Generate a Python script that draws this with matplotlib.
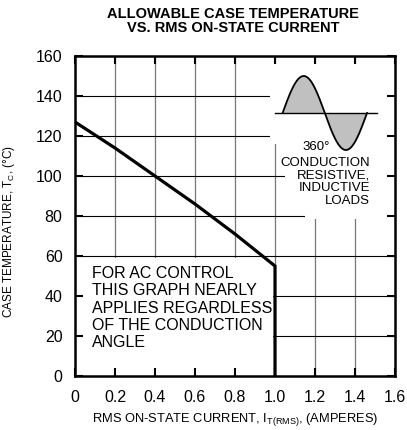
import numpy as np
import matplotlib
matplotlib.use('Agg')
import matplotlib.pyplot as plt
from matplotlib.patches import Rectangle

plt.rcParams['font.family'] = ['Liberation Sans', 'DejaVu Sans']
plt.rcParams['mathtext.fontset'] = 'custom'
plt.rcParams['mathtext.rm'] = 'Liberation Sans'

# Allowable case temperature curve
current_a = [0.0, 0.2, 0.4, 0.6, 0.8, 1.0, 1.0]
case_temp_c = [127, 114, 100, 86, 71, 55, 0]

x_ticks = [0, 0.2, 0.4, 0.6, 0.8, 1.0, 1.2, 1.4, 1.6]
x_tick_labels = ['0', '0.2', '0.4', '0.6', '0.8', '1.0', '1.2', '1.4', '1.6']
y_ticks = [0, 20, 40, 60, 80, 100, 120, 140, 160]

# little waveform icon (360 deg conduction)
wave_x0, wave_x1 = 1.038, 1.46
wave_mid, wave_amp = 131.5, 18.5

fig = plt.figure(figsize=(4.07, 4.30), dpi=100)
ax = fig.add_axes([75 / 407, 54 / 430, 320 / 407, 320 / 430])

ax.set_xlim(0, 1.6)
ax.set_ylim(0, 160)

# grid drawn by hand so the white label boxes can cover it
for xv in x_ticks[1:-1]:
    ax.axvline(xv, color='#777777', lw=0.9, zorder=0.5)
for yv in y_ticks[1:-1]:
    ax.axhline(yv, color='black', lw=0.8, zorder=0.5)

# white areas behind the annotations
for (x0, y0, w, h) in [(0.0, 0.0, 0.99, 59), (0.975, 116, 0.625, 40),
                       (1.05, 81, 0.55, 35), (1.15, 78.5, 0.45, 10)]:
    ax.add_patch(Rectangle((x0, y0), w, h, facecolor='white', edgecolor='none', zorder=1))

ax.plot(current_a, case_temp_c, color='black', lw=2.3, solid_joinstyle='miter', zorder=3)

# waveform icon
t = np.linspace(0, 2 * np.pi, 200)
wx = wave_x0 + (wave_x1 - wave_x0) * t / (2 * np.pi)
wy = wave_mid + wave_amp * np.sin(t)
ax.fill_between(wx, wave_mid, wy, color='#c0c0c0', lw=0, zorder=2)
ax.plot(wx, wy, color='black', lw=1.3, zorder=3)
ax.plot([1.0, 1.51], [wave_mid, wave_mid], color='black', lw=1.0, zorder=3)

ax.text(1.135, 114.5, '360°', fontsize=9.5, ha='left', va='center', zorder=3)
ax.text(1.475, 97, 'CONDUCTION\nRESISTIVE,\nINDUCTIVE\nLOADS', fontsize=9.5,
        ha='right', va='center', multialignment='right', linespacing=1.06, zorder=3)

ax.text(0.085, 55, 'FOR AC CONTROL\nTHIS GRAPH NEARLY\nAPPLIES REGARDLESS\nOF THE CONDUCTION\nANGLE',
        fontsize=11.5, ha='left', va='top', linespacing=1.19, zorder=3)

ax.set_xticks(x_ticks)
ax.set_xticklabels(x_tick_labels)
ax.set_yticks(y_ticks)
ax.tick_params(direction='in', length=6, width=1.5, labelsize=11.5,
               top=True, right=True, zorder=2.5)
ax.tick_params(axis='y', pad=9)
ax.tick_params(axis='x', pad=10)
for s in ax.spines.values():
    s.set_linewidth(1.8)
    s.set_zorder(4)

ax.set_xlabel(r'RMS ON-STATE CURRENT, I$_\mathregular{T(RMS)}$, (AMPERES)', fontsize=9.3)
ax.xaxis.set_label_coords(0.5, -0.108)
ax.set_ylabel(r'CASE TEMPERATURE, T$_\mathregular{C}$, (°C)', fontsize=8.5)
ax.yaxis.set_label_coords(-0.18, 0.45)

title_x = 233 / 407
fig.text(title_x, 1 - 14 / 430, 'ALLOWABLE CASE TEMPERATURE',
         fontsize=10.5, fontweight='bold', ha='center', va='center')
fig.text(title_x, 1 - 28 / 430, 'VS. RMS ON-STATE CURRENT',
         fontsize=10.5, fontweight='bold', ha='center', va='center')

fig.savefig('out.png', dpi=100)
